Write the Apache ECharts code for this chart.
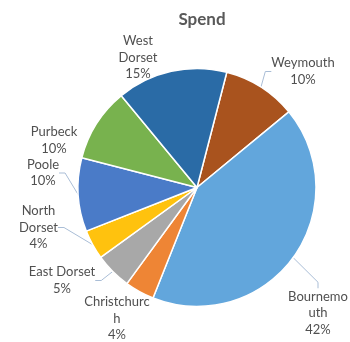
<!DOCTYPE html>
<html>
<head>
<meta charset="utf-8">
<script src="https://cdn.jsdelivr.net/npm/echarts@6/dist/echarts.min.js"></script>
<style>
  html, body { margin: 0; padding: 0; background: #fff; }
  #chart { width: 350px; height: 342px; }
</style>
</head>
<body>
<div id="chart"></div>
<script>
// Spend share by area (percent)
const categories = ['Weymouth', 'Bournemouth', 'Christchurch', 'East Dorset', 'North Dorset', 'Poole', 'Purbeck', 'West Dorset'];
const spend = [10, 42, 4, 5, 4, 10, 10, 15];
// Wrapped label text as shown beside each slice
const wrappedNames = ['Weymouth', 'Bournemo\nuth', 'Christchurc\nh', 'East Dorset', 'North\nDorset', 'Poole', 'Purbeck', 'West\nDorset'];

const colors = ['#A9531E', '#62A6DC', '#EE8535', '#A8A8A8', '#FFC20E', '#4A7BC8', '#78B24E', '#2A6BA6'];

// Label anchor points (centre of each text block)
const labelSpots = {
  'Weymouth': [303, 71.5],
  'Bournemouth': [318, 313],
  'Christchurch': [117, 318.5],
  'East Dorset': [62, 280.5],
  'North Dorset': [38.5, 227.5],
  'Poole': [43, 173],
  'Purbeck': [54, 140.5],
  'West Dorset': [138, 57.5]
};
// Labels sitting right against their slice get no leader line
const noLeader = new Set(['West Dorset', 'Purbeck', 'Christchurch']);

const chart = echarts.init(document.getElementById('chart'), null, { renderer: 'canvas' });

chart.setOption({
  animation: false,
  color: colors,
  title: {
    text: 'Spend',
    left: 197,
    top: 6,
    textAlign: 'center',
    textStyle: { fontFamily: 'Lato', fontSize: 17, fontWeight: 'bold', color: '#595959' }
  },
  series: [{
    type: 'pie',
    center: [197, 187.5],
    radius: 119,
    startAngle: 75.5,
    clockwise: true,
    itemStyle: { borderColor: '#ffffff', borderWidth: 1.5 },
    label: {
      show: true,
      position: 'outside',
      overflow: 'none',
      fontFamily: 'Lato',
      fontSize: 13,
      lineHeight: 16.5,
      color: '#505050',
      align: 'center',
      formatter: p => wrappedNames[p.dataIndex] + '\n' + Math.round(p.percent) + '%'
    },
    labelLine: {
      show: true,
      length: 8,
      length2: 6,
      lineStyle: { color: '#A9BDD6', width: 1 }
    },
    labelLayout: params => {
      const name = categories[params.dataIndex];
      const spot = labelSpots[name];
      return { x: spot[0], y: spot[1], align: 'center', verticalAlign: 'middle' };
    },
    data: categories.map((name, i) => ({
      name: name,
      value: spend[i],
      labelLine: { show: !noLeader.has(name) }
    }))
  }]
});
</script>
</body>
</html>
